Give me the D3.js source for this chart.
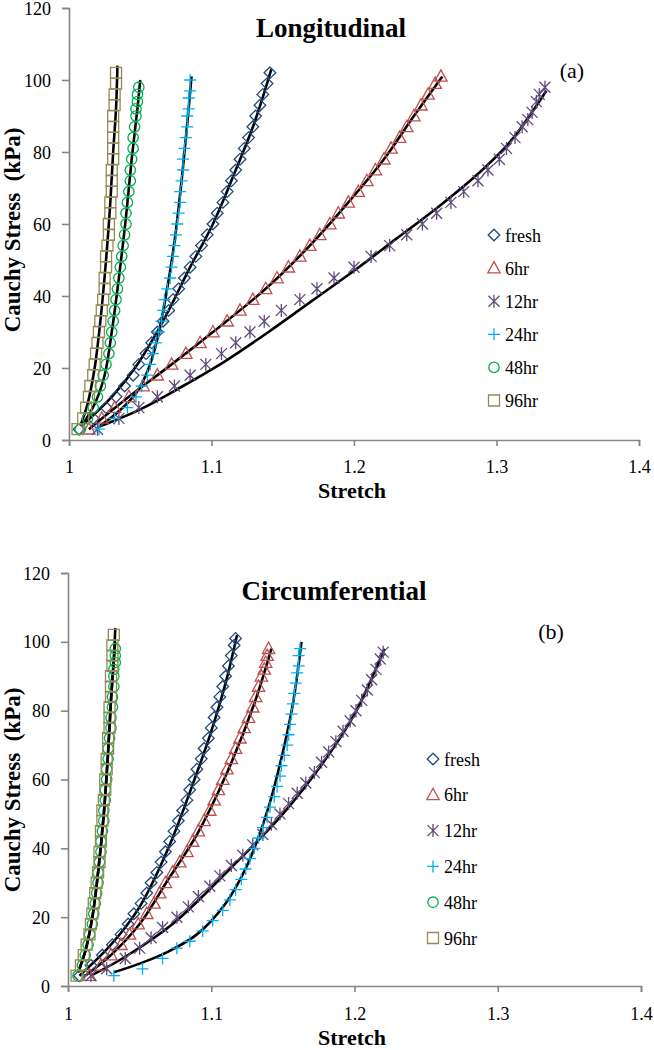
<!DOCTYPE html>
<html><head><meta charset="utf-8">
<script src="https://cdn.jsdelivr.net/npm/d3@7"></script>
<style>
html,body{margin:0;padding:0;background:#fff;}
svg{display:block;}
text{font-family:"Liberation Serif","Times New Roman",serif;fill:#000;}
</style></head><body>
<svg id="chart" width="654" height="1050"></svg>
<script>
// ---------- data ----------
const seriesNames = ["fresh", "6hr", "12hr", "24hr", "48hr", "96hr"];
const seriesColors = ["#1F497D", "#C0504D", "#604A7B", "#00B0F0", "#00B050", "#948A54"];
const markerKinds = ["diamond", "triangle", "asterisk", "plus", "circle", "square"];
const stretchTicks = [1, 1.1, 1.2, 1.3, 1.4];
const stressTicks = [0, 20, 40, 60, 80, 100, 120];
const panelTitles = ["Longitudinal", "Circumferential"];
const panelTags = ["(a)", "(b)"];

// Longitudinal markers: [stretch, stress kPa]
const longFresh = [[1.007,3],[1.017,6],[1.026,9],[1.033,12],[1.039,15],[1.045,18],[1.049,21],[1.054,24],[1.058,27],[1.062,30],[1.066,33],[1.070,36],[1.073,39],[1.077,42],[1.081,45],[1.085,48],[1.089,51],[1.093,54],[1.097,57],[1.101,60],[1.104,63],[1.108,66],[1.111,69],[1.114,72],[1.117,75],[1.120,78],[1.123,81],[1.126,84],[1.129,87],[1.131,90],[1.134,93],[1.136,96],[1.139,99],[1.141,102]];
const long6hr = [[1.014,3],[1.023,6],[1.032,9],[1.042,12],[1.052,15],[1.062,18],[1.072,21],[1.082,24],[1.092,27],[1.101,30],[1.111,33],[1.120,36],[1.129,39],[1.138,42],[1.146,45],[1.154,48],[1.162,51],[1.169,54],[1.176,57],[1.183,60],[1.189,63],[1.196,66],[1.203,69],[1.209,72],[1.215,75],[1.221,78],[1.226,81],[1.232,84],[1.237,87],[1.242,90],[1.247,93],[1.252,96],[1.257,99],[1.261,101]];
const long12hr = [[1.020,3],[1.035,6],[1.049,9],[1.062,12],[1.074,15],[1.085,18],[1.096,21],[1.107,24],[1.117,27],[1.127,30],[1.137,33],[1.149,36],[1.162,39],[1.174,42],[1.186,45],[1.200,48],[1.212,51],[1.225,54],[1.237,57],[1.248,60],[1.258,63],[1.268,66],[1.277,69],[1.287,72],[1.294,75],[1.302,78],[1.307,81],[1.313,84],[1.318,87],[1.322,89],[1.325,91],[1.328,94],[1.330,96],[1.334,98]];
const long24hr = [[1.021,3],[1.032,6],[1.041,9],[1.047,12],[1.051,15],[1.055,18],[1.057,21],[1.059,24],[1.061,27],[1.063,30],[1.065,33],[1.066,36],[1.067,39],[1.069,42],[1.071,45],[1.072,48],[1.073,51],[1.074,54],[1.075,57],[1.076,60],[1.077,63],[1.078,66],[1.078,69],[1.079,72],[1.080,75],[1.080,78],[1.081,81],[1.082,84],[1.083,87],[1.083,90],[1.084,92],[1.084,95],[1.085,97],[1.085,100]];
const long48hr = [[1.008,3],[1.013,6],[1.017,9],[1.020,12],[1.022,15],[1.024,18],[1.026,21],[1.028,24],[1.029,27],[1.030,30],[1.031,33],[1.032,36],[1.033,39],[1.034,42],[1.035,45],[1.036,48],[1.037,51],[1.038,54],[1.039,57],[1.040,60],[1.040,63],[1.041,66],[1.042,69],[1.043,72],[1.043,75],[1.044,78],[1.045,81],[1.045,84],[1.046,87],[1.047,90],[1.047,92],[1.048,94],[1.048,96],[1.049,98]];
const long96hr = [[1.006,3],[1.010,6],[1.012,9],[1.014,12],[1.015,15],[1.017,18],[1.018,21],[1.019,24],[1.020,27],[1.021,30],[1.022,33],[1.023,36],[1.024,39],[1.025,42],[1.025,45],[1.026,48],[1.026,51],[1.027,54],[1.028,57],[1.028,60],[1.029,63],[1.029,66],[1.030,69],[1.030,72],[1.030,75],[1.031,78],[1.031,81],[1.031,84],[1.031,87],[1.031,90],[1.032,93],[1.032,96],[1.033,99],[1.033,102]];

// Longitudinal model fits (black curves)
const longFreshFit = [[1.009,4],[1.030,12],[1.048,21],[1.066,33],[1.085,48],[1.101,60],[1.117,75],[1.130,88],[1.142,103]];
const long6hrFit = [[1.014,3],[1.042,12],[1.072,21],[1.101,30],[1.138,42],[1.169,54],[1.196,66],[1.221,78],[1.242,90],[1.262,101]];
const long12hrFit = [[1.020,3.5],[1.050,8.5],[1.080,15],[1.110,22],[1.140,30],[1.170,38.5],[1.200,47],[1.230,56],[1.260,65],[1.290,75],[1.310,83],[1.335,97]];
const long24hrFit = [[1.022,4],[1.035,8],[1.047,13],[1.055,19],[1.062,28],[1.068,40],[1.074,55],[1.079,72],[1.083,88],[1.086,101]];
const long48hrFit = [[1.009,4],[1.018,10],[1.025,18],[1.030,30],[1.035,45],[1.040,62],[1.044,78],[1.048,92],[1.050,100]];
const long96hrFit = [[1.008,4],[1.013,10],[1.018,20],[1.022,33],[1.026,50],[1.029,66],[1.031,80],[1.033,92],[1.034,104]];

// Circumferential markers
const circFresh = [[1.008,3],[1.016,6],[1.024,9],[1.031,12],[1.037,15],[1.042,18],[1.046,21],[1.051,24],[1.055,27],[1.058,30],[1.062,33],[1.065,36],[1.068,39],[1.071,42],[1.074,45],[1.077,48],[1.080,51],[1.083,54],[1.085,57],[1.088,60],[1.090,63],[1.093,66],[1.095,69],[1.098,72],[1.100,75],[1.102,78],[1.104,81],[1.106,84],[1.108,87],[1.110,90],[1.112,93],[1.114,96],[1.116,99],[1.117,101]];
const circ6hr = [[1.015,3],[1.023,6],[1.030,9],[1.037,12],[1.043,15],[1.049,18],[1.055,21],[1.060,24],[1.064,27],[1.068,30],[1.073,33],[1.078,36],[1.083,39],[1.087,42],[1.091,45],[1.095,48],[1.099,51],[1.102,54],[1.105,57],[1.108,60],[1.111,63],[1.114,66],[1.117,69],[1.120,72],[1.123,75],[1.126,78],[1.129,81],[1.131,84],[1.133,87],[1.135,90],[1.137,92],[1.138,94],[1.139,96],[1.140,98]];
const circ12hr = [[1.016,3],[1.027,5],[1.040,8],[1.050,11],[1.058,14],[1.066,17],[1.076,20],[1.084,23],[1.091,26],[1.099,29],[1.106,32],[1.114,35],[1.122,38],[1.129,41],[1.136,44],[1.142,47],[1.148,50],[1.154,53],[1.160,56],[1.166,59],[1.172,62],[1.177,65],[1.182,68],[1.187,71],[1.192,74],[1.197,77],[1.201,80],[1.205,83],[1.209,86],[1.212,89],[1.215,92],[1.218,95],[1.220,97]];
const circ24hr = [[1.032,3],[1.052,5],[1.066,8],[1.076,11],[1.085,13],[1.094,16],[1.101,19],[1.108,22],[1.113,25],[1.117,28],[1.121,31],[1.124,34],[1.127,37],[1.130,40],[1.133,43],[1.136,46],[1.139,49],[1.141,52],[1.144,55],[1.146,58],[1.148,61],[1.149,64],[1.151,67],[1.153,70],[1.154,73],[1.155,76],[1.156,79],[1.157,82],[1.158,85],[1.159,88],[1.160,91],[1.161,93],[1.161,96],[1.162,98]];
const circ48hr = [[1.007,3],[1.010,6],[1.012,9],[1.014,12],[1.015,15],[1.017,18],[1.018,21],[1.019,24],[1.020,27],[1.021,30],[1.021,33],[1.022,36],[1.023,39],[1.023,42],[1.024,45],[1.025,48],[1.025,51],[1.026,54],[1.026,57],[1.027,60],[1.027,63],[1.028,66],[1.028,69],[1.029,72],[1.030,75],[1.030,78],[1.031,81],[1.031,84],[1.032,87],[1.032,90],[1.032,92],[1.033,94],[1.033,96],[1.033,98]];
const circ96hr = [[1.006,3],[1.009,6],[1.011,9],[1.013,12],[1.015,15],[1.016,18],[1.017,21],[1.018,24],[1.019,27],[1.020,30],[1.021,33],[1.022,36],[1.022,39],[1.023,42],[1.023,45],[1.024,48],[1.024,51],[1.025,54],[1.026,57],[1.026,60],[1.027,63],[1.027,66],[1.028,69],[1.028,72],[1.029,75],[1.029,78],[1.029,81],[1.030,84],[1.030,87],[1.030,90],[1.031,93],[1.031,96],[1.031,99],[1.032,102]];

// Circumferential model fits
const circFreshFit = [[1.008,3],[1.030,12],[1.050,23],[1.070,40],[1.090,62],[1.100,74],[1.110,88],[1.118,102]];
const circ6hrFit = [[1.012,3],[1.030,9],[1.050,18],[1.070,31],[1.090,44],[1.110,61],[1.130,82],[1.142,98]];
const circ12hrFit = [[1.016,3],[1.040,8.5],[1.073,18],[1.113,34],[1.150,50],[1.180,66],[1.200,79],[1.221,98]];
const circ24hrFit = [[1.032,4],[1.050,6.5],[1.070,10],[1.090,15],[1.110,24],[1.125,35],[1.140,52],[1.150,68],[1.157,82],[1.163,100]];
const circ48hrFit = [[1.007,4],[1.012,10],[1.017,20],[1.021,33],[1.025,50],[1.028,68],[1.030,83],[1.032,95],[1.033,100]];
const circ96hrFit = [[1.007,4],[1.012,10],[1.017,20],[1.021,33],[1.025,50],[1.028,68],[1.030,83],[1.032,95],[1.033,104]];

const panelMarkers = [
  [longFresh, long6hr, long12hr, long24hr, long48hr, long96hr],
  [circFresh, circ6hr, circ12hr, circ24hr, circ48hr, circ96hr]
];
const panelFits = [
  [longFreshFit, long6hrFit, long12hrFit, long24hrFit, long48hrFit, long96hrFit],
  [circFreshFit, circ6hrFit, circ12hrFit, circ24hrFit, circ48hrFit, circ96hrFit]
];

// ---------- layout ----------
const panels = [
  {x0: 69, x1: 639, y0: 440, y1: 8, titleX: 331, titleY: 37, tagX: 572, tagY: 78,
   legX: 494, legY: 235, legStep: 33.1, xlabY: 498, xtickY: 473, ylabMid: 230},
  {x0: 68, x1: 641, y0: 986, y1: 573, titleX: 334, titleY: 600, tagX: 551, tagY: 639,
   legX: 433, legY: 759, legStep: 35.8, xlabY: 1045, xtickY: 1020, ylabMid: 790}
];

const svg = d3.select("#chart");
const axisColor = "#868686";

function markerPath(kind) {
  const p = d3.path();
  if (kind === "diamond") { const r = 5.8; p.moveTo(0,-r); p.lineTo(r,0); p.lineTo(0,r); p.lineTo(-r,0); p.closePath(); }
  else if (kind === "triangle") { p.moveTo(0,-6.5); p.lineTo(6.2,4.8); p.lineTo(-6.2,4.8); p.closePath(); }
  else if (kind === "asterisk") { const r = 5.5; p.moveTo(-r,-r); p.lineTo(r,r); p.moveTo(-r,r); p.lineTo(r,-r); p.moveTo(0,-r-1); p.lineTo(0,r+1); }
  else if (kind === "plus") { const r = 6; p.moveTo(-r,0); p.lineTo(r,0); p.moveTo(0,-r); p.lineTo(0,r); }
  else if (kind === "circle") { p.arc(0,0,5.2,0,2*Math.PI); }
  else if (kind === "square") { p.rect(-5.5,-5.5,11,11); }
  return p.toString();
}

panels.forEach((P, pi) => {
  const x = d3.scaleLinear().domain([1, 1.4]).range([P.x0, P.x1]);
  const y = d3.scaleLinear().domain([0, 120]).range([P.y0, P.y1]);
  const g = svg.append("g");

  // axes
  const yAxis = g.append("g").attr("transform", `translate(${P.x0},0)`)
    .call(d3.axisLeft(y).tickValues(stressTicks).tickSize(7).tickPadding(11).tickFormat(d3.format("d")));
  const xAxis = g.append("g").attr("transform", `translate(0,${P.y0})`)
    .call(d3.axisBottom(x).tickValues(stretchTicks).tickSize(6).tickPadding(0).tickFormat(d => d3.format("")(d)));
  [yAxis, xAxis].forEach(a => {
    a.select(".domain").attr("stroke", axisColor).attr("stroke-width", 1.6);
    a.selectAll(".tick line").attr("stroke", axisColor).attr("stroke-width", 1.6);
    a.selectAll("text").attr("font-size", 18).attr("font-family", '"Liberation Serif", serif').attr("fill", "#111");
  });
  xAxis.selectAll(".tick text").attr("y", null).attr("dy", null)
    .attr("transform", `translate(0,${P.xtickY - P.y0})`);
  yAxis.selectAll(".tick text").attr("dy", "0.34em");

  // fits
  const line = d3.line().x(d => x(d[0])).y(d => y(d[1])).curve(d3.curveCatmullRom.alpha(0.5));
  panelFits[pi].forEach(fit => {
    g.append("path").attr("d", line(fit)).attr("fill", "none")
      .attr("stroke", "#000").attr("stroke-width", 2.6);
  });

  // markers
  panelMarkers[pi].forEach((ser, si) => {
    g.append("g").selectAll("path").data(ser).join("path")
      .attr("d", markerPath(markerKinds[si]))
      .attr("transform", d => `translate(${x(d[0])},${y(d[1])})`)
      .attr("fill", "none").attr("stroke", seriesColors[si]).attr("stroke-width", 1.3);
  });

  // titles
  g.append("text").attr("x", P.titleX).attr("y", P.titleY).attr("text-anchor", "middle")
    .attr("font-size", 27).attr("font-weight", "bold").text(panelTitles[pi]);
  g.append("text").attr("x", P.tagX).attr("y", P.tagY).attr("text-anchor", "middle")
    .attr("font-size", 22).text(panelTags[pi]);
  g.append("text").attr("x", 352).attr("y", P.xlabY).attr("text-anchor", "middle")
    .attr("font-size", 22).attr("font-weight", "bold").text("Stretch");
  g.append("text").attr("transform", `translate(20,${P.ylabMid}) rotate(-90)`).attr("text-anchor", "middle")
    .attr("font-size", 23).attr("font-weight", "bold").attr("xml:space", "preserve")
    .style("white-space", "pre").text("Cauchy Stress  (kPa)");

  // legend
  seriesNames.forEach((name, si) => {
    const ly = P.legY + si * P.legStep;
    g.append("path").attr("d", markerPath(markerKinds[si]))
      .attr("transform", `translate(${P.legX},${ly})`)
      .attr("fill", "none").attr("stroke", seriesColors[si]).attr("stroke-width", 1.3);
    g.append("text").attr("x", P.legX + 11).attr("y", ly + 6.5).attr("font-size", 18).text(name);
  });
});
</script>
</body></html>
